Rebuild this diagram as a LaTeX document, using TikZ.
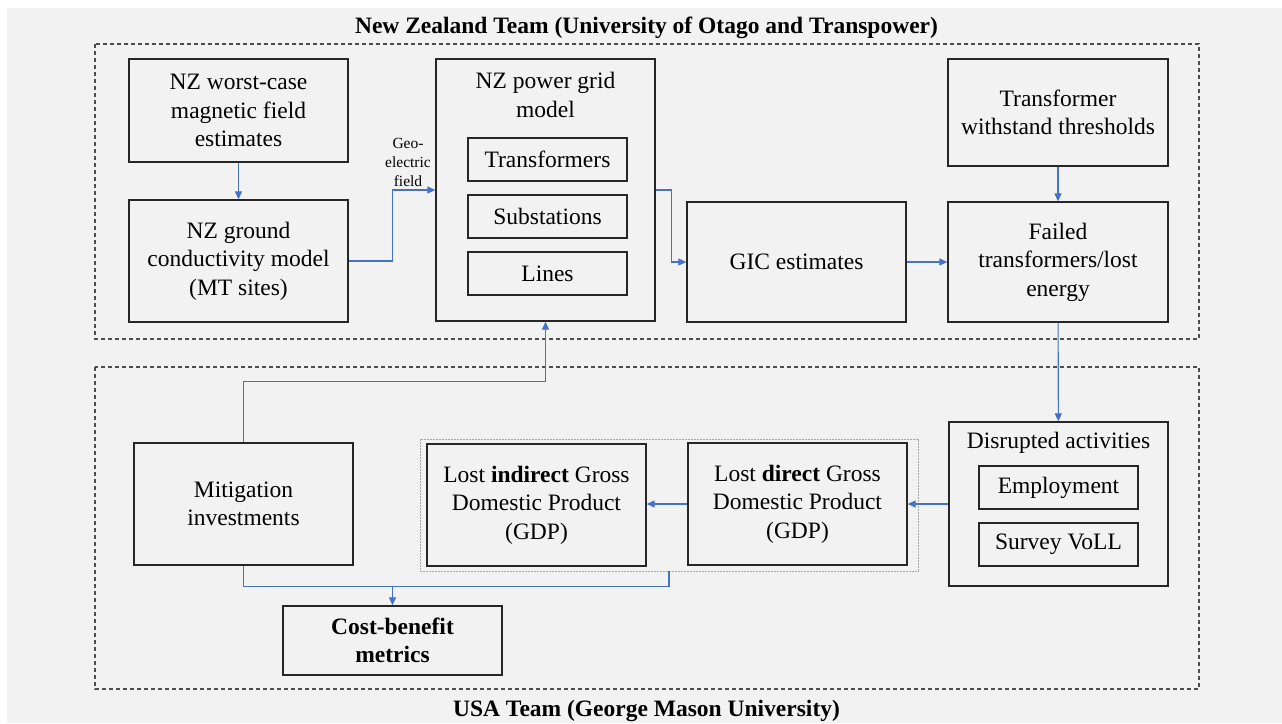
\documentclass[tikz,border=0pt]{standalone}
\usepackage{fontspec}
\setmainfont{Liberation Serif}
\newfontfamily\tnr{Liberation Serif}
\usetikzlibrary{arrows.meta,calc}
\definecolor{bgc}{HTML}{F2F2F2}
\definecolor{arrc}{HTML}{4472C4}
\definecolor{boxc}{HTML}{262626}
\definecolor{dashc}{HTML}{4D4D4D}
\definecolor{contc}{HTML}{A6A6A6}
\begin{document}
\begin{tikzpicture}[x=1pt,y=-1pt,
  every node/.style={font=\tnr\fontsize{23.5}{28.5}\selectfont},
  box/.style={draw=boxc,line width=1.3pt,rectangle,align=center,inner sep=0pt},
  lbl/.style={align=center,inner sep=0pt},
  conn/.style={draw=arrc,line width=1.1pt},
  arr/.style={conn,-{Triangle[length=8pt,width=7pt]}},
  outer/.style={draw=dashc,line width=1.1pt,dash pattern=on 4pt off 3pt},
  cont/.style={draw=contc,line width=0.8pt,dash pattern=on 2pt off 1pt}
]
\useasboundingbox (0,0) rectangle (1282,723);
\fill[white] (0,0) rectangle (1282,723);
\fill[bgc] (7,8) rectangle (1282,723);

% team frames
\draw[outer] (95,44) rectangle (1199,339);
\draw[outer] (95,367) rectangle (1199,689);
\node[lbl,font=\tnr\fontsize{23.5}{28.5}\selectfont\bfseries] (nzt) at (646.5,27.5) {New Zealand Team (University of Otago and Transpower)};
\node[lbl,font=\tnr\fontsize{23.5}{28.5}\selectfont\bfseries] (ust) at (646.5,711) {USA Team (George Mason University)};

% NZ boxes
\node[box,minimum width=219pt,minimum height=103pt] (mag) at (238.5,110.5) {NZ worst-case\\magnetic field\\estimates};
\node[box,minimum width=219pt,minimum height=122pt] (cond) at (238.5,261) {NZ ground\\conductivity model\\(MT sites)};
\node[box,minimum width=219pt,minimum height=262pt] (grid) at (545.5,190) {};
\node[lbl] (gridt) at (545.5,95) {NZ power grid\\model};
\node[box,minimum width=159pt,minimum height=43pt] (trans) at (547.5,159.5) {Transformers};
\node[box,minimum width=159pt,minimum height=43pt] (subst) at (547.5,216.5) {Substations};
\node[box,minimum width=159pt,minimum height=43pt] (lines) at (547.5,273.5) {Lines};
\node[box,minimum width=219pt,minimum height=120pt] (gic) at (796.5,262) {GIC estimates};
\node[box,minimum width=220pt,minimum height=107pt] (with) at (1058,112.5) {Transformer\\withstand thresholds};
\node[box,minimum width=220pt,minimum height=120pt] (fail) at (1058,262) {Failed\\transformers/lost\\energy};
\node[lbl,font=\tnr\fontsize{15.5}{19}\selectfont] (geo) at (408,162) {Geo-\\electric\\field};

% USA boxes
\node[box,minimum width=219pt,minimum height=164pt] (dis) at (1058.5,504) {};
\node[lbl] (dist) at (1058.5,442.5) {Disrupted activities};
\node[box,minimum width=159pt,minimum height=43pt] (emp) at (1058.5,487.5) {Employment};
\node[box,minimum width=159pt,minimum height=43pt] (voll) at (1058.5,544.5) {Survey VoLL};
\node[cont,rectangle,minimum width=498pt,minimum height=132pt,inner sep=0pt] (gdp) at (669,505) {};
\node[box,minimum width=219pt,minimum height=122pt] (ind) at (536.5,505) {Lost \textbf{indirect} Gross\\Domestic Product\\(GDP)};
\node[box,minimum width=219pt,minimum height=122pt] (dir) at (797.5,504) {Lost \textbf{direct} Gross\\Domestic Product\\(GDP)};
\node[box,minimum width=219pt,minimum height=122pt] (mit) at (243.5,504) {Mitigation\\investments};
\node[box,minimum width=219pt,minimum height=69pt,font=\tnr\fontsize{23.5}{28.5}\selectfont\bfseries] (cost) at (392.5,640.5) {Cost-benefit\\metrics};
\coordinate (join) at (392.5,586);

% connectors
\draw[arr] (mag) -- (cond);
\draw[arr] (cond.east) -- ++(44,0) |- (grid.west);
\draw[arr] (grid.east) -- ++(16,0) |- (gic.west);
\draw[arr] (gic) -- (fail);
\draw[arr] (with) -- (fail);
\draw[arr] (fail) -- (dis);
\draw[arr] (dis.west) -- (dir.east);
\draw[arr] (dir.west) -- (dir.west -| ind.east);
\draw[arr] (mit.north) -- ++(0,-61) -| (grid.south);
\draw[conn] (mit.south) -- ++(0,21) -| (gdp.south);
\draw[arr] (join) -- (cost.north);
\end{tikzpicture}
\end{document}
